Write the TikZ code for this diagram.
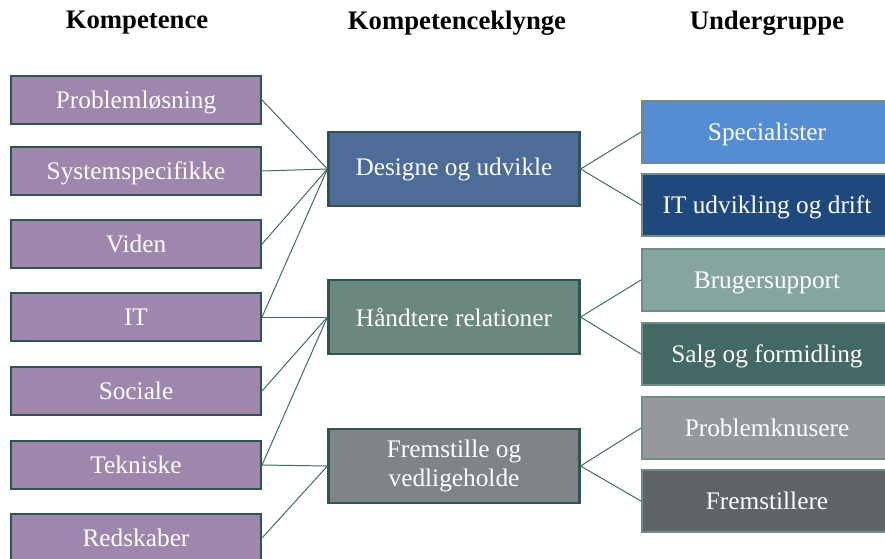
\documentclass[tikz,border=0pt]{standalone}
\usepackage{fontspec}
\setmainfont{Liberation Serif}
\usetikzlibrary{shapes}

\definecolor{kompfill}{HTML}{9F86AC}
\definecolor{boxline}{HTML}{2F5550}
\definecolor{subline}{HTML}{6F8C86}
\definecolor{linkcol}{HTML}{3F6B64}
\definecolor{designfill}{HTML}{4D6C97}
\definecolor{relfill}{HTML}{6B8880}
\definecolor{fremfill}{HTML}{7F8586}
\definecolor{specfill}{HTML}{548DD4}
\definecolor{itfill}{HTML}{1F497D}
\definecolor{brugfill}{HTML}{87A59F}
\definecolor{salgfill}{HTML}{436964}
\definecolor{knusfill}{HTML}{95999C}
\definecolor{fremsfill}{HTML}{5F6468}

\begin{document}
\begin{tikzpicture}[x=0.025cm,y=-0.025cm,
  head/.style={font=\fontsize{19}{22}\selectfont\bfseries},
  komp/.style={draw=boxline,line width=1.5pt,fill=kompfill,text=white,
    minimum width=250*0.025cm,minimum height=48*0.025cm,
    text height=16pt,text depth=4pt,
    font=\fontsize{18}{21}\selectfont},
  klynge/.style={draw=boxline,line width=1.5pt,text=white,align=center,
    minimum width=251*0.025cm,minimum height=74*0.025cm,
    font=\fontsize{18}{21}\selectfont},
  under/.style={draw=subline,line width=1.5pt,text=white,
    minimum width=250*0.025cm,minimum height=62*0.025cm,
    text height=16pt,text depth=4pt,
    font=\fontsize{18}{21}\selectfont},
  link/.style={draw=linkcol,line width=0.7pt}]
\useasboundingbox (0,0) rectangle (885,558);
\clip (0,0) rectangle (885,558);
\node[head] at (137,23) (hkomp) {Kompetence};
\node[head] at (457,23) (hklynge) {Kompetenceklynge};
\node[head] at (767,23) (hunder) {Undergruppe};
\node[komp] at (136,100) (prob) {Problemløsning};
\node[komp] at (136,171) (sys) {Systemspecifikke};
\node[komp] at (136,244) (viden) {Viden};
\node[komp] at (136,317) (it) {IT};
\node[komp] at (136,391) (soc) {Sociale};
\node[komp] at (136,465) (tek) {Tekniske};
\node[komp] at (136,538) (red) {Redskaber};
\node[klynge,fill=designfill] at (454,169) (design) {Designe og udvikle};
\node[klynge,fill=relfill] at (454,317) (rel) {Håndtere relationer};
\node[klynge,fill=fremfill] at (454,466) (frem) {Fremstille og\\vedligeholde};
\node[under,fill=specfill] at (767,132) (spec) {Specialister};
\node[under,fill=itfill] at (767,205) (itud) {IT udvikling og drift};
\node[under,fill=brugfill] at (767,280) (brug) {Brugersupport};
\node[under,fill=salgfill] at (767,354) (salg) {Salg og formidling};
\node[under,fill=knusfill] at (767,428) (knus) {Problemknusere};
\node[under,fill=fremsfill] at (767,501) (frems) {Fremstillere};
\draw[link] (prob.east) -- (design.west);
\draw[link] (sys.east) -- (design.west);
\draw[link] (viden.east) -- (design.west);
\draw[link] (it.east) -- (design.west);
\draw[link] (it.east) -- (rel.west);
\draw[link] (soc.east) -- (rel.west);
\draw[link] (tek.east) -- (rel.west);
\draw[link] (tek.east) -- (frem.west);
\draw[link] (red.east) -- (frem.west);
\draw[link] (design.east) -- (spec.west);
\draw[link] (design.east) -- (itud.west);
\draw[link] (rel.east) -- (brug.west);
\draw[link] (rel.east) -- (salg.west);
\draw[link] (frem.east) -- (knus.west);
\draw[link] (frem.east) -- (frems.west);
\end{tikzpicture}
\end{document}
